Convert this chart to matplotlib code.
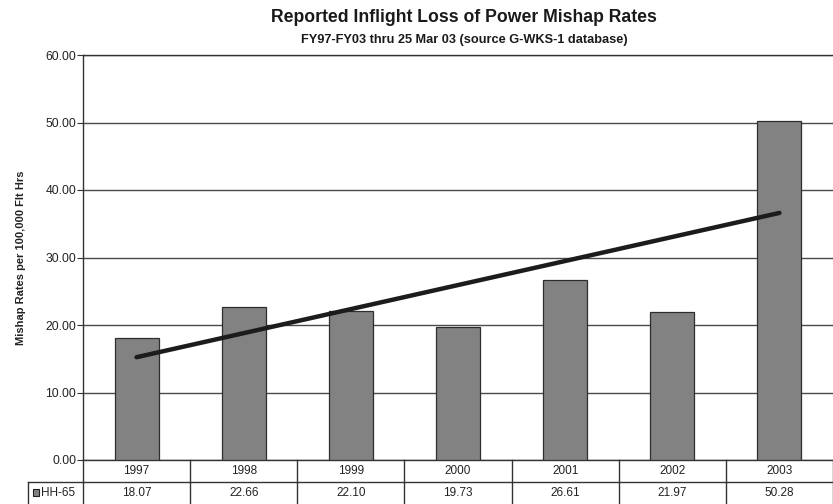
import matplotlib.pyplot as plt
import matplotlib.transforms as mtransforms
from matplotlib.patches import Rectangle
import numpy as np

years = ["1997", "1998", "1999", "2000", "2001", "2002", "2003"]
rates = [18.07, 22.66, 22.10, 19.73, 26.61, 21.97, 50.28]
series_name = "HH-65"

plt.rcParams['font.family'] = ['Liberation Sans', 'DejaVu Sans']

W, H = 833, 504
fig = plt.figure(figsize=(W / 100, H / 100), dpi=100)
# plot area in pixels: left 83, top 55, bottom 460
ax = fig.add_axes([83 / W, 1 - 460 / H, 1 - 83 / W, (460 - 55) / H])

x = np.arange(len(years))
ax.bar(x, rates, width=0.41, color='#828282', edgecolor='#2e2e2e', linewidth=0.9, zorder=3)

# linear trend line
coef = np.polyfit(x, rates, 1)
ax.plot(x, np.polyval(coef, x), color='#1c1c1c', lw=3.2, solid_capstyle='round', zorder=4)

ax.set_xlim(-0.5, len(years) - 0.5)
ax.set_ylim(0, 60)
yt = np.arange(0, 61, 10)
ax.set_yticks(yt)
ax.set_yticklabels([f"{v:.2f}" for v in yt], fontsize=8.7, color='#222222')
ax.tick_params(axis='y', length=4, width=0.8, color='#333333', pad=1)
ax.set_xticks([])
ax.yaxis.grid(True, color='#4a4a4a', lw=1.0, zorder=1)
for s in ax.spines.values():
    s.set_color('#333333')
    s.set_linewidth(1.0)
ax.spines['right'].set_visible(False)

ax.set_ylabel("Mishap Rates per 100,000 Flt Hrs", fontsize=8, fontweight='bold',
              color='#222222', labelpad=14)

fig.text(464 / W, 1 - 17 / H, "Reported Inflight Loss of Power Mishap Rates",
         ha='center', va='center', fontsize=12.7, fontweight='bold', color='#1a1a1a')
fig.text(464 / W, 1 - 40 / H, "FY97-FY03 thru 25 Mar 03 (source G-WKS-1 database)",
         ha='center', va='center', fontsize=9.2, fontweight='bold', color='#1a1a1a')

# data table below the axis
trans = mtransforms.blended_transform_factory(ax.transData, ax.transAxes)
ppx = 1 / 107.3          # data units per pixel in x
ppy = 1 / 405.0          # axes fraction per pixel in y
row1 = -22 * ppy
row2 = -60 * ppy
left_col = -0.5 - 55 * ppx
lc = '#333333'
ax.plot([-0.5, len(years) - 0.5], [row1, row1], color=lc, lw=1.0, transform=trans, clip_on=False)
ax.plot([left_col, -0.5], [row1, row1], color=lc, lw=1.0, transform=trans, clip_on=False)
ax.plot([left_col, left_col], [row1, row2], color=lc, lw=1.0, transform=trans, clip_on=False)
for b in np.arange(-0.5, len(years), 1.0):
    ax.plot([b, b], [0, row2], color=lc, lw=1.0, transform=trans, clip_on=False)

for xi, yr, v in zip(x, years, rates):
    ax.text(xi, -11 * ppy, yr, ha='center', va='center', fontsize=8.5,
            color='#222222', transform=trans, clip_on=False)
    ax.text(xi, -33 * ppy, f"{v:.2f}", ha='center', va='center', fontsize=8.5,
            color='#222222', transform=trans, clip_on=False)

ax.add_patch(Rectangle((left_col + 5 * ppx, -36 * ppy), 6 * ppx, 7 * ppy,
                       facecolor='#828282', edgecolor='#222222', lw=0.8,
                       transform=trans, clip_on=False))
ax.text(left_col + 13 * ppx, -33 * ppy, series_name, ha='left', va='center',
        fontsize=8.5, color='#222222', transform=trans, clip_on=False)

fig.savefig("out.png", dpi=100)
